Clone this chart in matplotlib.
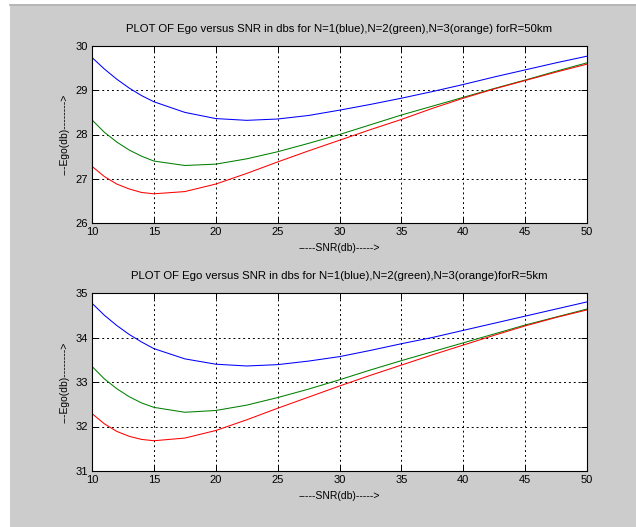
import matplotlib
matplotlib.use("Agg")
import matplotlib.pyplot as plt
from matplotlib.patches import Rectangle
from matplotlib.lines import Line2D

plt.rcParams["font.family"] = ["Liberation Sans", "DejaVu Sans"]

snr = [10, 11, 12, 13, 14, 15, 17.5, 20, 22.5, 25, 27.5, 30,
       32.5, 35, 37.5, 40, 42.5, 45, 47.5, 50]

# R = 50 km
ego50_n1 = [29.74, 29.48, 29.25, 29.05, 28.88, 28.74, 28.50, 28.36, 28.32, 28.35,
            28.43, 28.55, 28.68, 28.82, 28.97, 29.13, 29.30, 29.46, 29.62, 29.77]
ego50_n2 = [28.33, 28.05, 27.83, 27.65, 27.51, 27.40, 27.30, 27.33, 27.45, 27.61,
            27.80, 28.00, 28.22, 28.44, 28.64, 28.84, 29.04, 29.23, 29.43, 29.62]
ego50_n3 = [27.28, 27.05, 26.88, 26.77, 26.69, 26.66, 26.71, 26.88, 27.12, 27.38,
            27.63, 27.87, 28.11, 28.34, 28.59, 28.82, 29.03, 29.22, 29.41, 29.59]

# R = 5 km
ego5_n1 = [34.77, 34.50, 34.27, 34.07, 33.90, 33.75, 33.52, 33.40, 33.36, 33.39,
           33.47, 33.57, 33.71, 33.86, 34.00, 34.16, 34.32, 34.48, 34.64, 34.80]
ego5_n2 = [33.35, 33.07, 32.85, 32.67, 32.53, 32.43, 32.32, 32.36, 32.48, 32.65,
           32.84, 33.05, 33.27, 33.48, 33.68, 33.88, 34.08, 34.28, 34.46, 34.64]
ego5_n3 = [32.29, 32.06, 31.89, 31.78, 31.71, 31.68, 31.74, 31.91, 32.15, 32.41,
           32.66, 32.91, 33.15, 33.38, 33.61, 33.83, 34.05, 34.26, 34.45, 34.62]

titles = ["PLOT OF Ego versus SNR in dbs for N=1(blue),N=2(green),N=3(orange) forR=50km",
          "PLOT OF Ego versus SNR in dbs for N=1(blue),N=2(green),N=3(orange)forR=5km"]
yticks_top = [26, 27, 28, 29, 30]
yticks_bot = [31, 32, 33, 34, 35]
xticks = [10, 15, 20, 25, 30, 35, 40, 45, 50]

fig = plt.figure(figsize=(6.36, 5.27), dpi=100)
fig.patch.set_facecolor("white")
# gray MATLAB-like window background
fig.patches.append(Rectangle((10 / 636, 0), 1, 1 - 6 / 527, transform=fig.transFigure,
                             facecolor="#cccccc", edgecolor="none", zorder=-10))
fig.add_artist(Line2D([10 / 636, 1], [1 - 5 / 527, 1 - 5 / 527], transform=fig.transFigure,
                      color="#a8a8a8", lw=1.2, zorder=-5))

ax1 = fig.add_axes([92 / 636, 1 - 223 / 527, 495 / 636, 177 / 527])
ax2 = fig.add_axes([92 / 636, 1 - 471 / 527, 495 / 636, 178 / 527])

panels = [(ax1, [ego50_n1, ego50_n2, ego50_n3], yticks_top, titles[0]),
          (ax2, [ego5_n1, ego5_n2, ego5_n3], yticks_bot, titles[1])]

for ax, series, yt, title in panels:
    ax.set_facecolor("white")
    for vals, c in zip(series, ["#0000ff", "#008000", "#ff0000"]):
        ax.plot(snr, vals, color=c, lw=0.75)
    ax.set_xlim(10, 50)
    ax.set_ylim(yt[0], yt[-1])
    ax.set_xticks(xticks)
    ax.set_yticks(yt)
    ax.grid(True, color="black", linestyle=(0, (2, 3)), linewidth=0.7)
    ax.tick_params(direction="in", length=4, width=0.7, top=True, right=True,
                   labelsize=8, colors="black", pad=3)
    for sp in ax.spines.values():
        sp.set_linewidth(0.8)
        sp.set_color("black")
    ax.set_title(title, fontsize=8.2, pad=10)
    ax.set_xlabel("-----SNR(db)----->", fontsize=7.5, labelpad=4)
    ax.set_ylabel("---Ego(db)-------->", fontsize=7.5, labelpad=4)

fig.savefig("out.png", dpi=100, facecolor=fig.get_facecolor())
